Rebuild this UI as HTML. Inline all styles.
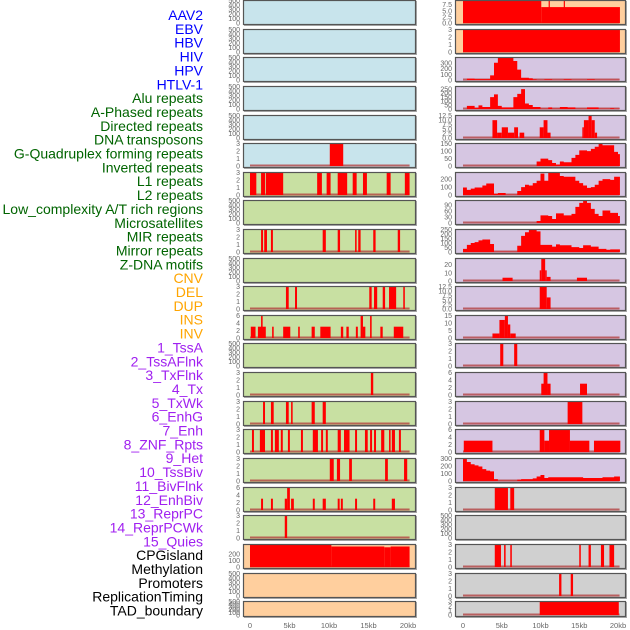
<!DOCTYPE html>
<html><head><meta charset="utf-8">
<style>
html,body{margin:0;padding:0;background:#fff;}
svg{display:block;font-family:"Liberation Sans",sans-serif;}
</style></head>
<body>
<svg id="chart" width="630" height="630" viewBox="0 0 630 630" xmlns="http://www.w3.org/2000/svg"></svg>
<script>
// ---- track labels ----
const trackLabels = ["AAV2","EBV","HBV","HIV","HPV","HTLV-1","Alu repeats","A-Phased repeats","Directed repeats","DNA transposons","G-Quadruplex forming repeats","Inverted repeats","L1 repeats","L2 repeats","Low_complexity A/T rich regions","Microsatellites","MIR repeats","Mirror repeats","Z-DNA motifs","CNV","DEL","DUP","INS","INV","1_TssA","2_TssAFlnk","3_TxFlnk","4_Tx","5_TxWk","6_EnhG","7_Enh","8_ZNF_Rpts","9_Het","10_TssBiv","11_BivFlnk","12_EnhBiv","13_ReprPC","14_ReprPCWk","15_Quies","CPGisland","Methylation","Promoters","ReplicationTiming","TAD_boundary"];
const labelGroups = [6,13,5,15,5];
const xTickKb = [0,5,10,15,20];
const xTickLabels = ["0","5kb","10kb","15kb","20kb"];

// ---- tick sets ----
const t3 = [0,1,2,3];
const t6 = [0,2,4,6];
const t500 = [0,100,200,300,400,500];

// ---- left column data: segments [startKb,endKb,value] ----
const L5 = [[10.1,11.8,3]];
const L6 = [[0,0.8,3],[1.4,1.9,3],[2.0,4.2,3],[8.5,9.1,3],[9.7,10.2,3],[11.1,12.3,3],[13.0,13.5,3],[14.3,14.8,3],[17.3,17.8,3],[19.6,20.2,3]];
const L8 = [[1.4,1.65,3],[1.8,2.15,3],[2.65,2.9,3],[9.2,9.6,3],[11.1,11.4,3],[13.3,13.5,3],[13.7,14.0,3],[15.6,15.9,3],[18.7,19.0,3]];
const L10 = [[4.55,4.9,3],[5.7,5.95,3],[15.1,15.4,3],[15.7,16.1,3],[16.8,17.1,3],[17.6,18.5,3],[19.4,19.6,3]];
const L11 = [[0.1,0.7,3],[1.0,2.0,3],[1.4,1.6,6],[2.8,3.0,3],[4.2,5.1,3],[6.1,6.3,3],[7.8,8.2,3],[8.9,10.2,3],[11.5,11.8,3],[12.2,12.5,3],[13.4,13.65,3],[14.0,14.3,6],[14.3,14.6,3],[15.2,15.4,6],[16.5,16.8,3],[18.2,19.4,3]];
const L13 = [[15.3,15.6,3]];
const L14 = [[1.65,1.9,3],[2.65,3.0,3],[4.55,4.9,3],[5.2,5.4,3],[7.8,8.2,3],[9.2,9.6,3]];
const L15 = [[0.25,0.5,3],[1.25,1.9,3],[2.65,2.9,3],[3.15,3.65,3],[3.9,4.15,3],[4.8,5.05,3],[6.45,6.7,3],[7.95,8.6,3],[9.0,9.25,3],[9.6,9.85,3],[11.1,11.5,3],[11.9,12.6,3],[13.3,13.55,3],[14.55,14.9,3],[15.2,15.45,3],[15.7,15.95,3],[16.6,17.0,3],[17.6,17.8,3],[17.95,18.35,3],[18.85,19.1,3]];
const L16 = [[10.1,10.6,3],[11.0,11.4,3],[12.55,12.9,3],[17.1,17.45,3],[19.5,19.9,3]];
const L17 = [[1.4,1.65,3],[2.65,2.9,3],[4.4,4.7,3],[4.7,5.05,6],[5.2,5.55,3],[7.95,8.2,3],[9.2,9.6,3],[11.1,11.35,3],[11.5,11.75,3],[13.3,13.55,3],[15.6,15.85,3],[17.95,18.35,3]];
const L18 = [[4.4,4.7,3]];
const L19 = [[0,10.3,345],[10.3,17.0,312],[17.0,17.8,300],[17.8,20.2,312]];

// ---- right column data ----
const R0 = [[0,10.1,9.4],[10.1,20.25,6.5],[11.05,11.2,9.4],[13.0,13.12,9.4]];
const R1 = [[0,20.25,3]];
const R2_bins = [0,25,25,15,15,15,15,80,300,390,395,395,395,330,180,40,40,30,10,3,3,10,10,3,3,3,10,10,3,3,3,3,10,10,3,3,3,3,3,3,3];
const R3_bins = [0,40,40,15,45,25,25,150,185,40,20,20,20,150,190,250,70,50,25,25,3,3,20,3,3,25,25,20,20,3,3,3,20,20,20,3,3,3,10,3,3];
const R4 = [[3.8,4.4,10],[4.4,5.0,3],[5.0,5.8,6],[5.8,6.6,3],[6.6,7.1,6],[7.3,7.9,3],[9.9,10.4,6],[10.4,10.9,10],[10.9,11.3,3],[15.4,15.6,6],[15.6,16.2,10],[16.2,16.6,12.5],[16.6,17.0,10],[17.0,17.3,3]];
const R5_bins = [0,0,0,0,0,0,0,0,0,0,0,0,0,0,0,0,0,0,0,30,50,50,40,20,10,30,25,25,55,75,105,105,100,115,130,155,140,140,140,95,80];
const R6_bins = [95,65,80,95,95,120,145,145,15,25,25,3,3,3,50,100,130,120,150,180,270,180,290,290,290,240,230,230,230,180,150,120,90,100,130,180,200,200,190,230,230];
const R7_bins = [0,0,0,0,0,0,0,0,0,0,0,0,0,0,0,0,0,0,0,10,38,38,35,20,48,48,38,38,45,80,100,110,100,70,45,35,62,62,50,50,35];
const R8_bins = [35,80,100,110,130,140,140,90,3,3,3,3,3,3,70,180,220,255,255,230,80,80,80,60,85,75,75,75,55,55,45,75,75,60,60,35,35,25,30,30,30];
const R9 = [[5.1,6.4,4],[9.9,10.1,13],[10.1,10.6,28],[10.6,10.8,13],[10.8,11.3,5],[14.7,16.0,4]];
const R10 = [[9.9,10.8,12.5],[10.8,11.3,6.5]];
const R11 = [[3.8,4.7,3],[4.7,5.4,12],[5.4,5.8,15],[5.8,6.1,9],[6.1,6.8,3]];
const R12 = [[4.8,5.2,3],[6.6,7.0,3]];
const R13 = [[10.1,10.5,3],[10.4,10.9,6],[10.9,11.3,3],[15.1,16.0,3]];
const R14 = [[13.5,15.4,3]];
const R15 = [[0.1,3.8,3],[9.9,10.5,6],[10.5,11.1,3],[11.1,13.8,6],[13.8,16.3,3],[16.9,20.3,3]];
const R16_bins = [300,255,225,210,195,160,140,130,25,3,3,3,3,3,18,25,25,25,35,60,80,40,50,50,50,50,50,50,50,50,50,40,40,40,40,40,50,50,50,60,60];
const R17 = [[4.1,5.8,3],[6.1,6.6,3]];
const R19 = [[4.1,4.9,3],[5.3,5.5,3],[6.1,6.3,3],[15.0,15.2,3],[16.2,16.5,3],[17.8,18.2,3],[18.9,19.5,3]];
const R20 = [[12.4,12.7,3],[13.9,14.2,3]];
const R21 = [[9.9,20.1,3]];

// ---- layout (not data) ----
const rowTops = [0,29,57,86,115,143,172,200,229,258,286,315,343,372,401,429,458,487,515,544,573,601];
const BG = {blue:"#c8e4ec",green:"#c8e0a2",orange:"#ffcf9e",purple:"#d6c6e2",gray:"#d0d0d0"};
const COLS = {L:{x:243,w:173,x0:250,pk:7.9,tx:240},R:{x:455,w:171,x0:463,pk:7.75,tx:452}};

const leftPanels = [
 {bg:"blue",ymax:510,ticks:t500},{bg:"blue",ymax:510,ticks:t500},{bg:"blue",ymax:510,ticks:t500},
 {bg:"blue",ymax:510,ticks:t500},{bg:"blue",ymax:510,ticks:t500},
 {bg:"blue",ymax:3.05,ticks:t3,segs:L5},
 {bg:"green",ymax:3.05,ticks:t3,segs:L6},
 {bg:"green",ymax:510,ticks:t500},
 {bg:"green",ymax:3.05,ticks:t3,segs:L8},
 {bg:"green",ymax:510,ticks:t500},
 {bg:"green",ymax:3.05,ticks:t3,segs:L10},
 {bg:"green",ymax:6.1,ticks:t6,segs:L11},
 {bg:"green",ymax:510,ticks:t500},
 {bg:"green",ymax:3.05,ticks:t3,segs:L13},
 {bg:"green",ymax:3.05,ticks:t3,segs:L14},
 {bg:"green",ymax:3.05,ticks:t3,segs:L15},
 {bg:"green",ymax:3.05,ticks:t3,segs:L16},
 {bg:"green",ymax:6.1,ticks:t6,segs:L17},
 {bg:"green",ymax:3.05,ticks:t3,segs:L18},
 {bg:"orange",ymax:350,ticks:[0,100,200],segs:L19},
 {bg:"orange",ymax:510,ticks:t500},
 {bg:"orange",ymax:510,ticks:t500}
];
const rightPanels = [
 {bg:"orange",ymax:9.4,ticks:[0,2.5,5,7.5],dec:1,segs:R0},
 {bg:"orange",ymax:3.05,ticks:t3,segs:R1},
 {bg:"purple",ymax:400,ticks:[0,100,200,300],bins:R2_bins},
 {bg:"purple",ymax:290,ticks:[0,50,100,150,200,250],bins:R3_bins},
 {bg:"purple",ymax:12.9,ticks:[0,2.5,5,7.5,10,12.5],dec:1,segs:R4},
 {bg:"purple",ymax:155,ticks:[0,50,100,150],bins:R5_bins},
 {bg:"purple",ymax:290,ticks:[0,100,200],bins:R6_bins},
 {bg:"purple",ymax:114,ticks:[0,30,60,90],bins:R7_bins},
 {bg:"purple",ymax:257,ticks:[0,50,100,150,200,250],bins:R8_bins},
 {bg:"purple",ymax:28,ticks:[0,10,20],segs:R9},
 {bg:"purple",ymax:12.9,ticks:[0,2.5,5,7.5,10,12.5],dec:1,segs:R10},
 {bg:"purple",ymax:15.3,ticks:[0,5,10,15],segs:R11},
 {bg:"purple",ymax:3.05,ticks:t3,segs:R12},
 {bg:"purple",ymax:6.1,ticks:t6,segs:R13},
 {bg:"purple",ymax:3.05,ticks:t3,segs:R14},
 {bg:"purple",ymax:6.1,ticks:t6,segs:R15},
 {bg:"purple",ymax:309,ticks:[0,100,200,300],bins:R16_bins},
 {bg:"gray",ymax:3.05,ticks:t3,segs:R17},
 {bg:"gray",ymax:510,ticks:t500},
 {bg:"gray",ymax:3.05,ticks:t3,segs:R19},
 {bg:"gray",ymax:3.05,ticks:t3,segs:R20},
 {bg:"gray",ymax:3.05,ticks:t3,segs:R21}
];

const NS = "http://www.w3.org/2000/svg";
const svg = document.getElementById("chart");
function mk(tag, attrs, parent){
  const e = document.createElementNS(NS, tag);
  for (const k in attrs) e.setAttribute(k, attrs[k]);
  (parent||svg).appendChild(e);
  return e;
}

// labels
const groupColors = ["#0000ff","#006400","#ffa500","#a020f0","#000000"];
let gi = 0, gcount = 0;
trackLabels.forEach((lab, i) => {
  while (gcount >= labelGroups[gi]) { gi++; gcount = 0; }
  gcount++;
  const t = mk("text",{x:203,y:15+i*13.85+5,"text-anchor":"end","font-size":"14",fill:groupColors[gi]});
  t.textContent = lab;
  
  
});

function drawPanel(p, colKey, r){
  const c = COLS[colKey];
  const top = rowTops[r];
  const H = r === 21 ? 16 : 25;
  const g = mk("g",{});
  
  
  const ybase = top + H - 2;
  const ph = H - 2;
  const yOf = v => ybase - Math.min(v, p.ymax) / p.ymax * ph;
  const xOf = kb => c.x0 + kb * c.pk;
  mk("rect",{x:c.x+1,y:top+1,width:c.w,height:H,fill:"#aaaaaa"},g);
  const bg = mk("rect",{x:c.x,y:top,width:c.w,height:H,fill:BG[p.bg]},g);
  
  
  const hasData = p.segs || p.bins;
  if (hasData) {
    mk("line",{x1:xOf(0),x2:xOf(20.2),y1:ybase-0.5,y2:ybase-0.5,stroke:"#b23a3a","stroke-width":2,opacity:0.75},g);
  }
  if (p.segs) {
    p.segs.forEach(s => {
      const x1 = xOf(s[0]), x2 = xOf(s[1]);
      const b = mk("rect",{x:x1,y:yOf(s[2]),width:Math.max(1.2,x2-x1),height:ybase-yOf(s[2]),fill:"#ff0000"},g);
      
      
    });
  }
  if (p.bins) {
    let d = "M" + xOf(0) + "," + ybase;
    p.bins.forEach((v, i) => {
      const xa = xOf(i*0.5), xb = xOf(Math.min(i*0.5+0.5, 20.25));
      d += " L" + xa + "," + yOf(v) + " L" + xb + "," + yOf(v);
    });
    d += " L" + xOf(20.25) + "," + ybase + " Z";
    const a = mk("path",{d:d,fill:"#ff0000"},g);
    
    
  }
  mk("rect",{x:c.x+0.5,y:top+0.5,width:c.w-1,height:H-1,fill:"none",stroke:"#555","stroke-width":1.2},g);
  p.ticks.forEach(tv => {
    const tt = mk("text",{x:c.tx,y:yOf(tv)+2.5,"text-anchor":"end","font-size":"7",fill:"#666"},g);
    tt.textContent = p.dec ? tv.toFixed(1) : String(tv);
    
    
  });
}
leftPanels.forEach((p, r) => drawPanel(p, "L", r));
rightPanels.forEach((p, r) => drawPanel(p, "R", r));

// x axes
["L","R"].forEach(k => {
  const c = COLS[k];
  xTickKb.forEach((kb, i) => {
    const t = mk("text",{x:c.x0+kb*c.pk,y:628,"text-anchor":"middle","font-size":"7.5",fill:"#666"});
    t.textContent = xTickLabels[i];
    
    
  });
});
</script>
</body></html>
